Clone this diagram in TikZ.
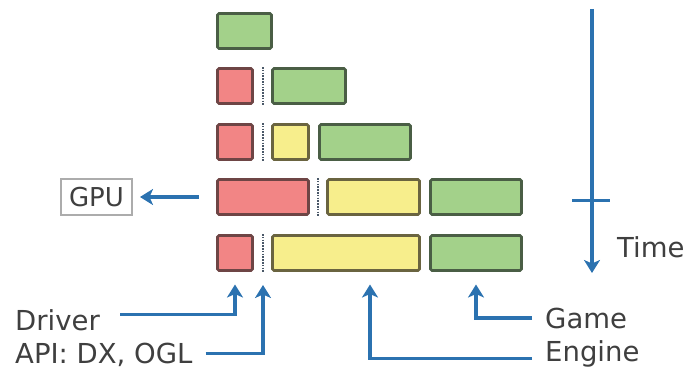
\documentclass[tikz,border=0pt]{standalone}
\usepackage{fontspec}
\setmainfont{DejaVu Sans}
\usetikzlibrary{arrows.meta}
\definecolor{redf}{HTML}{F28585}
\definecolor{redd}{HTML}{6E4545}
\definecolor{yelf}{HTML}{F7EE8C}
\definecolor{yeld}{HTML}{6A6440}
\definecolor{grnf}{HTML}{A3D18A}
\definecolor{grnd}{HTML}{4A5E45}
\definecolor{arrblue}{HTML}{2B72B0}
\definecolor{dotc}{HTML}{4A5868}
\definecolor{txt}{HTML}{3F3F3F}
\tikzset{
  blk/.style={draw, line width=2.6pt, rounded corners=1.5pt, inner sep=0pt, outer sep=0pt, anchor=north west, minimum height=35pt},
  rblk/.style={blk, fill=redf, draw=redd},
  yblk/.style={blk, fill=yelf, draw=yeld},
  gblk/.style={blk, fill=grnf, draw=grnd},
  sep/.style={dotc, line width=2.2pt, dash pattern=on 1.5pt off 1.3pt},
  arr/.style={arrblue, line width=3.2pt, -{Stealth[length=13pt,width=16pt,inset=3.5pt]}},
  lbl/.style={text=txt, font=\fontsize{27.5}{32}\selectfont, inner sep=0pt, anchor=base west},
}
\begin{document}
\begin{tikzpicture}[x=1pt,y=-1pt]
\useasboundingbox (0,0) rectangle (687,369);
% row 1
\node[gblk, minimum width=54pt] (r1g) at (217.5,13.5) {};
% row 2
\node[rblk, minimum width=35pt] (r2r) at (217.5,68.5) {};
\node[gblk, minimum width=73pt] (r2g) at (272.5,68.5) {};
\draw[sep] (263,67) -- (263,105);
% row 3
\node[rblk, minimum width=35pt] (r3r) at (217.5,124.5) {};
\node[yblk, minimum width=36pt] (r3y) at (272.5,124.5) {};
\node[gblk, minimum width=91pt] (r3g) at (319.5,124.5) {};
\draw[sep] (263,123) -- (263,161);
% row 4
\node[rblk, minimum width=91pt] (r4r) at (217.5,179.5) {};
\node[yblk, minimum width=92pt] (r4y) at (327.5,179.5) {};
\node[gblk, minimum width=91pt] (r4g) at (430.5,179.5) {};
\draw[sep] (318,178) -- (318,216);
% row 5
\node[rblk, minimum width=35pt] (r5r) at (217.5,235.5) {};
\node[yblk, minimum width=147pt] (r5y) at (272.5,235.5) {};
\node[gblk, minimum width=91pt] (r5g) at (430.5,235.5) {};
\coordinate (d5t) at (263,234);
\coordinate (d5b) at (263,272);
\draw[sep] (d5t) -- (d5b);
% GPU
\node[draw=gray!65, line width=1.3pt, inner sep=0pt, outer sep=0pt, minimum width=71pt, minimum height=36pt,
      text=txt, font=\fontsize{26}{30}\selectfont] (gpu) at (96.5,197) {GPU};
\draw[arr] ([xshift=-19pt]r4r.west) -- ([xshift=8pt]gpu.east);
% labels
\node[lbl] (driver) at (15,330) {Driver};
\node[lbl] (api) at (15,363) {API: DX, OGL};
\node[lbl] (game) at (545,328) {Game};
\node[lbl] (engine) at (545,361) {Engine};
\node[lbl] (time) at (617,257) {Time};
\draw[arr] ([xshift=20pt,yshift=5pt]driver.east) -| ([yshift=-14pt]r5r.south);
\draw[arr] ([xshift=13pt,yshift=1pt]api.east) -| ([yshift=-13pt]d5b);
\draw[arr] ([xshift=-13pt]game.west) -| ([yshift=-14pt]r5g.south);
\draw[arr] ([xshift=-13pt,yshift=-5pt]engine.west) -| ([xshift=24pt,yshift=-14pt]r5y.south);
% time axis
\coordinate (ttop) at (592,9);
\coordinate (tbot) at (592,273);
\draw[arr] (ttop) -- (tbot);
\draw[arrblue, line width=3pt] (572,200) -- (610,200);
\end{tikzpicture}
\end{document}
